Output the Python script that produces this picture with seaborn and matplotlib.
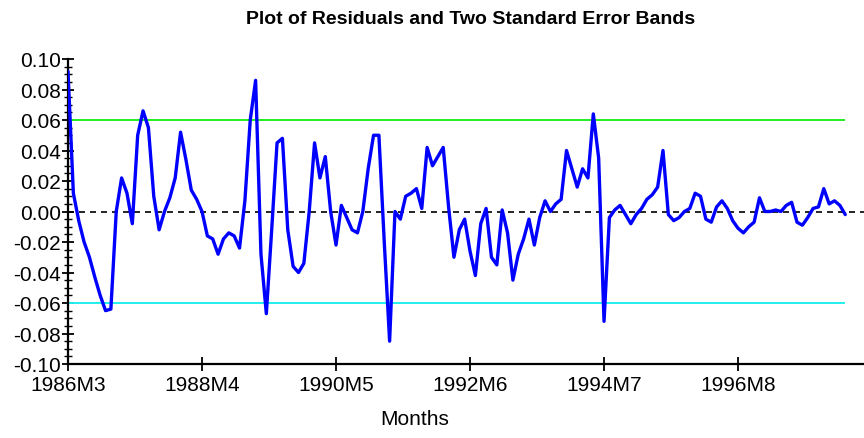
import numpy as np
import pandas as pd
import matplotlib
matplotlib.use("Agg")
import matplotlib.pyplot as plt
from matplotlib.ticker import FixedLocator, MultipleLocator
import seaborn as sns

# ---------------- data ----------------
start_label = "1986M3"
residuals = [
    0.092, 0.012, -0.006, -0.020, -0.030, -0.043, -0.055, -0.065, -0.064, 0.000,
    0.022, 0.012, -0.008, 0.050, 0.066, 0.055, 0.010, -0.012, 0.000, 0.009,
    0.022, 0.052, 0.034, 0.014, 0.008, 0.000, -0.016, -0.018, -0.028, -0.018,
    -0.014, -0.016, -0.024, 0.007, 0.060, 0.086, -0.028, -0.067, -0.012, 0.045,
    0.048, -0.012, -0.036, -0.040, -0.034, 0.000, 0.045, 0.022, 0.036, 0.000,
    -0.022, 0.004, -0.004, -0.012, -0.014, 0.000, 0.028, 0.050, 0.050, -0.020,
    -0.085, 0.000, -0.005, 0.010, 0.012, 0.015, 0.002, 0.042, 0.030, 0.036,
    0.042, 0.003, -0.030, -0.012, -0.005, -0.026, -0.042, -0.008, 0.002, -0.030,
    -0.035, 0.001, -0.014, -0.045, -0.028, -0.018, -0.005, -0.022, -0.004, 0.007,
    0.000, 0.005, 0.008, 0.040, 0.028, 0.016, 0.028, 0.022, 0.064, 0.035,
    -0.072, -0.004, 0.001, 0.004, -0.002, -0.008, -0.002, 0.002, 0.008, 0.011,
    0.016, 0.040, -0.002, -0.006, -0.004, 0.000, 0.002, 0.012, 0.010, -0.005,
    -0.007, 0.003, 0.007, 0.002, -0.006, -0.011, -0.014, -0.010, -0.007, 0.009,
    0.000, 0.000, 0.001, 0.000, 0.004, 0.006, -0.007, -0.009, -0.004, 0.002,
    0.003, 0.015, 0.005, 0.007, 0.004, -0.002,
]
upper_band = 0.06
lower_band = -0.06
x_tick_labels = ["1986M3", "1988M4", "1990M5", "1992M6", "1994M7", "1996M8"]
y_ticks = [0.10, 0.08, 0.06, 0.04, 0.02, 0.00, -0.02, -0.04, -0.06, -0.08, -0.10]
y_tick_labels = ["0.10", "0.08", "0.06", "0.04", "0.02", "0.00",
                 "-0.02", "-0.04", "-0.06", "-0.08", "-0.10"]
title = "Plot of Residuals and Two Standard Error Bands"
x_title = "Months"


def month_index(lbl):
    y, m = lbl.split("M")
    sy, sm = start_label.split("M")
    return (int(y) - int(sy)) * 12 + (int(m) - int(sm))


df = pd.DataFrame({"month": np.arange(len(residuals)), "resid": residuals})
x_tick_pos = [month_index(l) for l in x_tick_labels]

# ---------------- figure ----------------
sns.set_style("white")
plt.rcParams["font.family"] = ["Liberation Sans", "DejaVu Sans"]
plt.rcParams["text.color"] = "black"
plt.rcParams["xtick.color"] = "black"
plt.rcParams["ytick.color"] = "black"
plt.rcParams["xtick.labelcolor"] = "black"
plt.rcParams["ytick.labelcolor"] = "black"

W, H = 864, 439
fig = plt.figure(figsize=(W / 100, H / 100), dpi=100)
ax = fig.add_axes([68 / W, 1 - 365 / H, 1 - 68 / W, (365 - 60) / H])

ax.axhline(0, color="black", linestyle=(0, (3.6, 3.0)), linewidth=1.2, zorder=1)
ax.hlines(upper_band, df["month"].min(), df["month"].max(), color="#22ee22",
          linewidth=1.4, zorder=1)
ax.hlines(lower_band, df["month"].min(), df["month"].max(), color="#22eeee",
          linewidth=1.4, zorder=1)

sns.lineplot(data=df, x="month", y="resid", color="#0000ff", linewidth=2.4,
             ax=ax, zorder=3)

ax.set_xlim(0, 148.5)
ax.set_ylim(-0.10, 0.10)

ax.xaxis.set_major_locator(FixedLocator(x_tick_pos))
ax.set_xticklabels(x_tick_labels)
ax.yaxis.set_major_locator(FixedLocator(y_ticks))
ax.set_yticklabels(y_tick_labels)
ax.yaxis.set_minor_locator(MultipleLocator(0.005))

ax.tick_params(axis="y", which="major", direction="inout", length=8, width=1.3,
               colors="black", labelsize=15, pad=1, left=True)
ax.tick_params(axis="y", which="minor", direction="inout", length=6, width=1.0,
               colors="black", left=True)
ax.tick_params(axis="x", which="major", direction="inout", length=10, width=1.3,
               colors="black", labelsize=15, pad=3, bottom=True)

for s in ["top", "right"]:
    ax.spines[s].set_visible(False)
for s in ["left", "bottom"]:
    ax.spines[s].set_color("black")
    ax.spines[s].set_linewidth(1.6)

ax.set_xlabel("")
ax.set_ylabel("")

fig.text(471 / W, 1 - 19 / H, title, ha="center", va="center",
         fontsize=14, fontweight="bold", color="black")
fig.text(415 / W, 1 - 420 / H, x_title, ha="center", va="center", fontsize=15,
         color="black")

fig.savefig("out.png", dpi=100)
